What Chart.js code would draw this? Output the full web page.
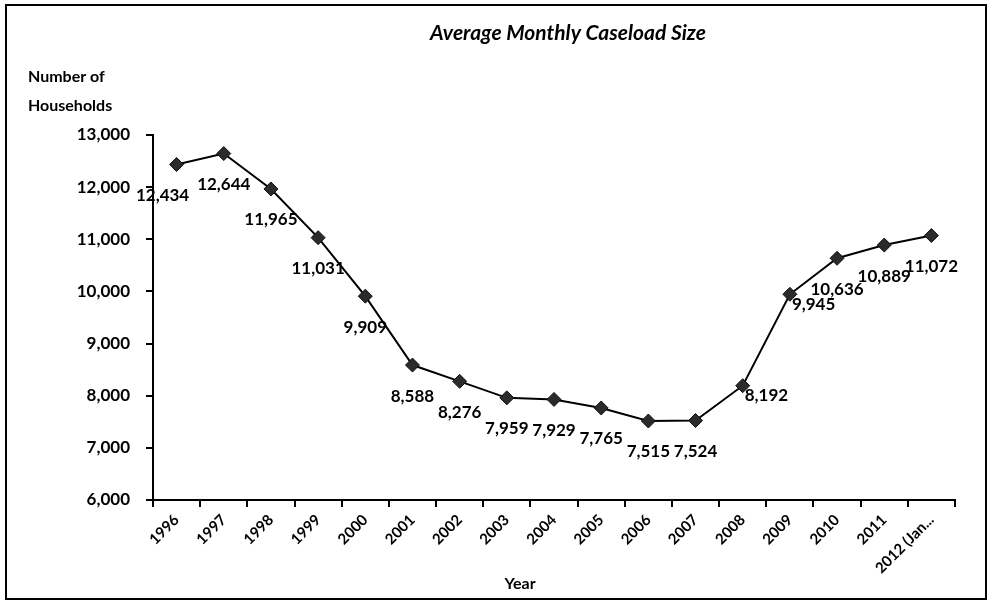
<!DOCTYPE html>
<html>
<head>
<meta charset="utf-8">
<script src="https://cdn.jsdelivr.net/npm/chart.js@4/dist/chart.umd.min.js"></script>
<style>
  html, body { margin: 0; padding: 0; background: #fff; }
  canvas { display: block; }
</style>
</head>
<body>
<canvas id="chart" width="992" height="607"></canvas>
<script>
// Données
const years = ["1996", "1997", "1998", "1999", "2000", "2001", "2002", "2003", "2004",
  "2005", "2006", "2007", "2008", "2009", "2010", "2011", "2012 (Jan..."];
const households = [12434, 12644, 11965, 11031, 9909, 8588, 8276, 7959, 7929,
  7765, 7515, 7524, 8192, 9945, 10636, 10889, 11072];
const yTickValues = [6000, 7000, 8000, 9000, 10000, 11000, 12000, 13000];

// placement des étiquettes (sous le point, ou à droite)
const labelSide = ["below", "below", "below", "below", "below", "below", "below", "below", "below",
  "below", "below", "below", "right", "right", "below", "below", "below"];

const FONT = "Lato, 'Open Sans', sans-serif";
const fmt = v => v.toLocaleString("en-US");

// Fond, cadre, titres
const decorPlugin = {
  id: "decor",
  beforeDraw(chart) {
    const c = chart.ctx;
    c.save();
    c.fillStyle = "#fff";
    c.fillRect(0, 0, chart.width, chart.height);
    c.restore();
  },
  afterDraw(chart) {
    const c = chart.ctx;
    c.save();
    c.strokeStyle = "#000";
    c.lineWidth = 2;
    c.strokeRect(6, 5, 980, 594);

    c.fillStyle = "#000";
    c.textBaseline = "middle";
    c.textAlign = "center";
    c.font = "italic bold 21px " + FONT;
    c.fillText("Average Monthly Caseload Size", 568, 33);

    c.textAlign = "left";
    c.font = "bold 16px " + FONT;
    c.fillText("Number of", 28, 77);
    c.fillText("Households", 28, 106);

    c.textAlign = "center";
    c.fillText("Year", 520, 584);
    c.restore();
  }
};

// Étiquettes de valeurs
const labelPlugin = {
  id: "valueLabels",
  afterDatasetsDraw(chart) {
    const c = chart.ctx;
    const meta = chart.getDatasetMeta(0);
    c.save();
    c.fillStyle = "#000";
    c.font = "bold 17px " + FONT;
    c.textBaseline = "middle";
    meta.data.forEach((pt, i) => {
      const txt = fmt(households[i]);
      if (labelSide[i] === "right") {
        c.textAlign = "left";
        c.fillText(txt, pt.x + 2, pt.y + 10);
      } else {
        c.textAlign = "center";
        c.fillText(txt, pt.x + (i === 0 ? -14 : 0), pt.y + 31);
      }
    });
    c.restore();
  }
};

new Chart(document.getElementById("chart"), {
  type: "line",
  data: {
    labels: years,
    datasets: [{
      data: households,
      borderColor: "#000",
      borderWidth: 2,
      pointStyle: "rectRot",
      pointRadius: 7,
      pointBackgroundColor: "#2b2b2b",
      pointBorderColor: "#111",
      pointBorderWidth: 1,
      tension: 0
    }]
  },
  options: {
    responsive: false,
    animation: false,
    layout: { padding: { left: 20, top: 135, right: 37, bottom: 0 } },
    plugins: {
      legend: { display: false },
      tooltip: { enabled: false }
    },
    scales: {
      x: {
        offset: true,
        afterFit: s => { s.height = 107; },
        grid: {
          offset: true,
          drawOnChartArea: false,
          drawTicks: true,
          tickLength: 7,
          color: "#000",
          lineWidth: 2
        },
        border: { color: "#000", width: 2 },
        ticks: {
          color: "#000",
          font: { family: FONT, size: 15, weight: "bold" },
          minRotation: 45,
          maxRotation: 45,
          autoSkip: false,
          padding: 4
        }
      },
      y: {
        min: 6000,
        max: 13000,
        afterFit: s => { s.width = 133; },
        afterBuildTicks: s => { s.ticks = yTickValues.map(v => ({ value: v })); },
        grid: {
          drawOnChartArea: false,
          drawTicks: true,
          tickLength: 7,
          color: "#000",
          lineWidth: 2
        },
        border: { color: "#000", width: 2 },
        ticks: {
          color: "#000",
          font: { family: FONT, size: 17, weight: "bold" },
          padding: 16,
          callback: v => fmt(v)
        }
      }
    }
  },
  plugins: [decorPlugin, labelPlugin]
});
</script>
</body>
</html>
